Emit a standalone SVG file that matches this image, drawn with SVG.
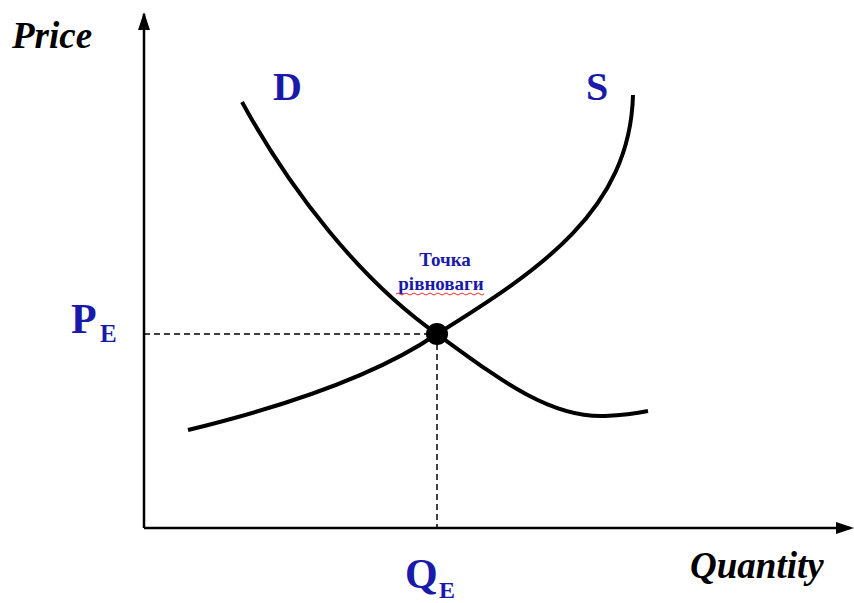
<svg xmlns="http://www.w3.org/2000/svg" width="854" height="603" viewBox="0 0 854 603">
<style>
.axis{stroke:#000;stroke-width:2.5;fill:none}
.curve{stroke:#000;stroke-width:4;fill:none;stroke-linecap:butt}
.dash{stroke:#000;stroke-width:1.5;stroke-dasharray:6,4;fill:none}
.lbl{font-family:"Liberation Serif",serif;font-style:italic;font-weight:bold;fill:#000;font-size:37px}
.blue{font-family:"Liberation Serif",serif;font-weight:bold;fill:#1a1aaa}
</style>
<rect width="854" height="603" fill="#fff"/>
<g id="axes">
<path class="axis" d="M144,528 V14"/>
<polygon points="144,12 138,30 150,30" fill="#000"/>
<path class="axis" d="M144,528 H850"/>
<polygon points="854,528 836,522 836,534" fill="#000"/>
</g>
<g id="connectors">
<path class="dash" d="M144,334 H437"/>
<path class="dash" d="M437,334 V528"/>
</g>
<g id="demand">
<path class="curve" d="M242,102 C290,190 360,280 437,334 C500,380 550,418 605,416 C625,415 638,413 648,411"/>
<text class="blue" x="273" y="100" font-size="40">D</text>
</g>
<g id="supply">
<path class="curve" d="M188,430 C270,410 370,380 437,334 C540,270 630,210 633,95"/>
<text class="blue" x="586" y="100" font-size="40">S</text>
</g>
<g id="equilibrium">
<circle cx="437" cy="334" r="11" fill="#000"/>
<text class="blue" x="445" y="266" font-size="19" text-anchor="middle">Точка</text>
<text class="blue" x="441" y="290" font-size="19" text-anchor="middle">рівноваги</text>
<path d="M396,294 q2,-2 4,0 t4,0 t4,0 t4,0 t4,0 t4,0 t4,0 t4,0 t4,0 t4,0 t4,0 t4,0 t4,0 t4,0 t4,0 t4,0 t4,0 t4,0 t4,0 t4,0 t4,0 t4,0" stroke="#e03030" stroke-width="1" fill="none"/>
</g>
<g id="price-label"><text class="lbl" x="12" y="48">Price</text></g>
<g id="quantity-label"><text class="lbl" x="690" y="578">Quantity</text></g>
<g id="pe">
<text class="blue" x="71" y="333" font-size="42">P</text>
<text class="blue" x="100" y="342" font-size="25">E</text>
</g>
<g id="qe">
<text class="blue" x="405" y="588" font-size="42">Q</text>
<text class="blue" x="439" y="598" font-size="24">E</text>
</g>
</svg>
